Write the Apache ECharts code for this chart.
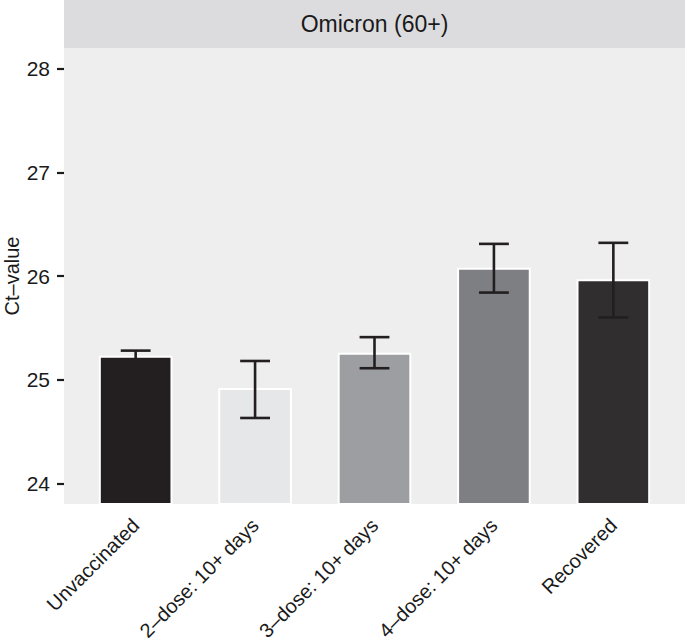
<!DOCTYPE html>
<html>
<head>
<meta charset="utf-8">
<script src="https://cdn.jsdelivr.net/npm/echarts@6/dist/echarts.min.js"></script>
<style>
  html, body { margin: 0; padding: 0; background: #ffffff; }
  #chart { width: 685px; height: 644px; }
</style>
</head>
<body>
<div id="chart"></div>
<script>
const categories = ['Unvaccinated', '2–dose: 10+ days', '3–dose: 10+ days', '4–dose: 10+ days', 'Recovered'];
const ctMean = [25.22, 24.91, 25.25, 26.07, 25.96];
const ciLow  = [25.16, 24.63, 25.11, 25.84, 25.60];
const ciHigh = [25.28, 25.18, 25.41, 26.31, 26.32];
const barColors = ['#231f20', '#e6e7e8', '#9d9ea1', '#7e7f83', '#302e2f'];
const yTicks = [24, 25, 26, 27, 28];
const xPositions = [1, 2, 3, 4, 5];
const panelTitle = 'Omicron (60+)';
const yTitle = 'Ct–value';

const FONT = "'Liberation Sans', Arial, Helvetica, sans-serif";
const chart = echarts.init(document.getElementById('chart'), null, { renderer: 'svg' });

const option = {
  animation: false,
  backgroundColor: '#ffffff',
  textStyle: { fontFamily: FONT },
  graphic: [
    { type: 'rect', z: 0, silent: true, shape: { x: 64, y: 0, width: 621, height: 48 }, style: { fill: '#dcdcde' } },
    { type: 'text', z: 1, silent: true, x: 374.5, y: 24,
      style: { text: panelTitle, fontSize: 23, fontFamily: FONT, fill: '#1a1a1a', align: 'center', verticalAlign: 'middle' } }
  ],
  grid: {
    left: 64, right: 0, top: 48, bottom: 140,
    containLabel: false, outerBoundsMode: 'none',
    show: true, backgroundColor: '#edeeed', borderWidth: 0
  },
  xAxis: {
    type: 'value',
    min: 0.4, max: 5.6,
    axisLine: { show: false },
    axisTick: { show: false },
    splitLine: { show: false },
    axisLabel: {
      customValues: xPositions,
      formatter: function (v) { return categories[Math.round(v) - 1]; },
      rotate: 45, align: 'right', verticalAlign: 'middle', margin: 18,
      fontSize: 20, fontFamily: FONT, color: '#1a1a1a'
    }
  },
  yAxis: {
    type: 'value',
    min: 23.8, max: 28.2,
    name: yTitle,
    nameLocation: 'middle',
    nameRotate: 90,
    nameGap: 42,
    nameMoveOverlap: false,
    nameTextStyle: { fontSize: 20, fontFamily: FONT, color: '#1a1a1a' },
    axisLine: { show: false },
    splitLine: { show: false },
    axisTick: { show: true, length: 7, customValues: yTicks, lineStyle: { color: '#1a1a1a', width: 2.2 } },
    axisLabel: { customValues: yTicks, margin: 14, fontSize: 21, fontFamily: FONT, color: '#1a1a1a' }
  },
  series: [
    {
      type: 'custom',
      z: 2,
      data: ctMean.map((v, i) => [xPositions[i], v]),
      encode: { x: 0, y: 1 },
      renderItem: function (params, api) {
        const x = api.value(0);
        const top = api.coord([x, api.value(1)]);
        const base = api.coord([x, 23.8]);
        const w = api.size([1, 0])[0] * 0.6;
        return {
          type: 'rect',
          shape: { x: top[0] - w / 2, y: top[1], width: w, height: base[1] - top[1] },
          style: { fill: barColors[params.dataIndex], stroke: '#ffffff', lineWidth: 2 }
        };
      }
    },
    {
      type: 'custom',
      z: 3,
      data: ciLow.map((lo, i) => [xPositions[i], lo, ciHigh[i]]),
      encode: { x: 0, y: [1, 2] },
      renderItem: function (params, api) {
        const x = api.value(0);
        const top = api.coord([x, api.value(2)]);
        const bot = api.coord([x, api.value(1)]);
        const half = api.size([1, 0])[0] * 0.125;
        const style = { stroke: '#231f20', lineWidth: 2.6 };
        return {
          type: 'group',
          children: [
            { type: 'line', shape: { x1: top[0], y1: top[1], x2: bot[0], y2: bot[1] }, style: style },
            { type: 'line', shape: { x1: top[0] - half, y1: top[1], x2: top[0] + half, y2: top[1] }, style: style },
            { type: 'line', shape: { x1: bot[0] - half, y1: bot[1], x2: bot[0] + half, y2: bot[1] }, style: style }
          ]
        };
      }
    }
  ]
};
chart.setOption(option);
</script>
</body>
</html>
